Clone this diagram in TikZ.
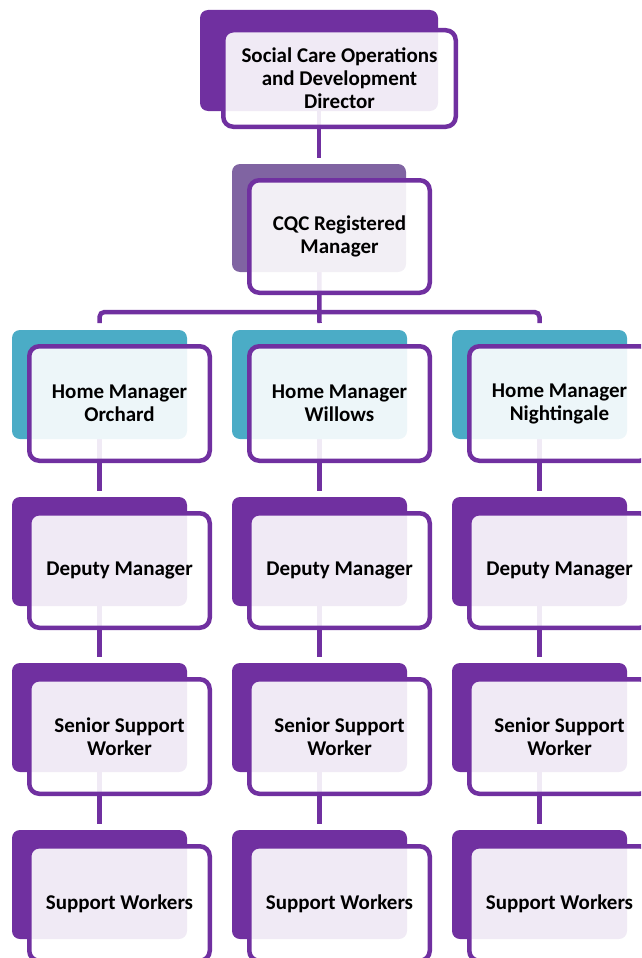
\documentclass[tikz,border=0pt]{standalone}
\usepackage{fontspec}
\setmainfont{Carlito}
\usetikzlibrary{calc}
\definecolor{orgpurple}{HTML}{7030A0}
\definecolor{orgmuted}{HTML}{8064A2}
\definecolor{orgteal}{HTML}{4BACC6}
\pgfdeclarelayer{bg}
\pgfsetlayers{bg,main}
\tikzset{
 backbox/.style={rectangle, rounded corners=8pt, inner sep=0pt, outer sep=0pt, anchor=north west, fill=#1},
 framebox/.style={rectangle, rounded corners=10pt, inner sep=0pt, outer sep=0pt, anchor=north west, draw=orgpurple, line width=4.5pt, fill=white, fill opacity=0.9, text opacity=1, align=center, font=\bfseries\fontsize{21}{23}\selectfont},
 conn/.style={draw=orgpurple, line width=4.5pt},
}
\begin{document}
\begin{tikzpicture}[x=1pt,y=-1pt]
\useasboundingbox (0,0) rectangle (641,958);
\clip (0,0) rectangle (641,958);
\node[backbox=orgpurple, minimum width=238pt, minimum height=101pt] (bD) at (200,10) {};
\node[framebox, minimum width=232.5pt, minimum height=96.5pt] (fD) at (223.25,30.25) {Social Care Operations\\and Development\\Director};
\node[backbox=orgmuted, minimum width=174pt, minimum height=108pt] (bC) at (232,164) {};
\node[framebox, minimum width=180.5pt, minimum height=112.5pt] (fC) at (249.25,180.25) {CQC Registered\\Manager};
\foreach \c/\n/\t in {0/O/Orchard,220/W/Willows,440/N/Nightingale}{
  \node[backbox=orgteal, minimum width=175pt, minimum height=109pt] (bH\n) at (12+\c,330) {};
  \node[framebox, minimum width=180.5pt, minimum height=114.5pt] (fH\n) at (29.25+\c,346.25) {Home Manager\\\t};
  \node[backbox=orgpurple, minimum width=175pt, minimum height=109pt] (bD\n) at (12+\c,497) {};
  \node[framebox, minimum width=180.5pt, minimum height=114.5pt] (fD\n) at (29.25+\c,513.25) {Deputy Manager};
  \node[backbox=orgpurple, minimum width=175pt, minimum height=109pt] (bS\n) at (12+\c,663) {};
  \node[framebox, minimum width=180.5pt, minimum height=114.5pt] (fS\n) at (29.25+\c,679.25) {Senior Support\\Worker};
  \node[backbox=orgpurple, minimum width=175pt, minimum height=109pt] (bP\n) at (12+\c,830) {};
  \node[framebox, minimum width=180.5pt, minimum height=114.5pt] (fP\n) at (29.25+\c,846.25) {Support Workers};
}
\coordinate (bus) at (319,312);
\begin{pgfonlayer}{bg}
\draw[conn] (bD.center) -- ($(bC.north)+(0,6pt)$);
\draw[conn] (bC.center) -- ($(bHW.north)+(0,7pt)$);
\draw[conn, rounded corners=5pt] ($(bHO.north)+(0,7pt)$) |- (bus) -| ($(bHN.north)+(0,7pt)$);
\foreach \n in {O,W,N}{
  \draw[conn] (bH\n.center) -- ($(bD\n.north)+(0,6pt)$);
  \draw[conn] (bD\n.center) -- ($(bS\n.north)+(0,6pt)$);
  \draw[conn] (bS\n.center) -- ($(bP\n.north)+(0,6pt)$);
}
\end{pgfonlayer}
\end{tikzpicture}
\end{document}
